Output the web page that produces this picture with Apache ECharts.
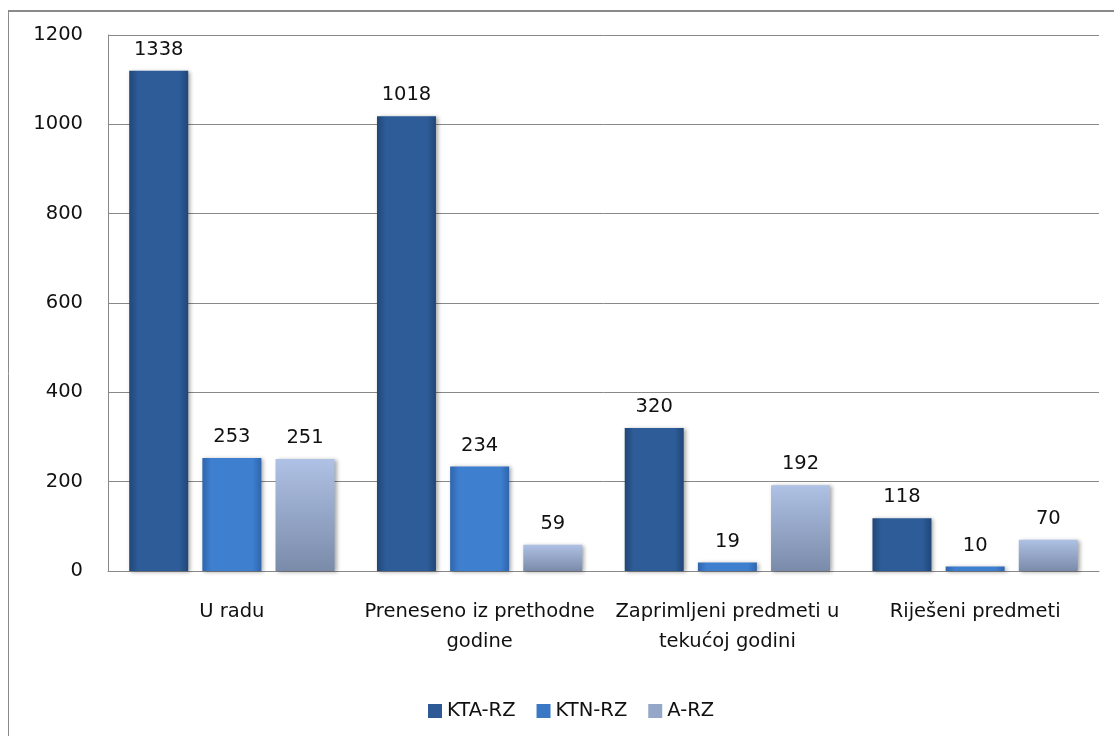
<!DOCTYPE html>
<html>
<head>
<meta charset="utf-8">
<script src="https://cdn.jsdelivr.net/npm/echarts@6/dist/echarts.min.js"></script>
<style>
html,body{margin:0;padding:0;background:#fff;}
#chart{width:1114px;height:736px;}
</style>
</head>
<body>
<div id="chart"></div>
<script>
// Data
var categories = ['U radu', 'Preneseno iz prethodne\ngodine', 'Zaprimljeni predmeti u\ntekućoj godini', 'Riješeni predmeti'];
var seriesNames = ['KTA-RZ', 'KTN-RZ', 'A-RZ'];
// bar heights as drawn in the reference (first KTA-RZ bar is drawn lower than its label)
var ktaBars = [1120, 1018, 320, 118];
var ktaLabels = [1338, 1018, 320, 118];
var ktnBars = [253, 234, 19, 10];
var arzBars = [251, 59, 192, 70];
var yTicks = [0, 200, 400, 600, 800, 1000, 1200];

var FONT = '"DejaVu Sans", sans-serif';
var FS = 19.5;

function hGrad(edge, mid) {
  return new echarts.graphic.LinearGradient(0, 0, 1, 0, [
    {offset: 0, color: edge},
    {offset: 0.15, color: mid},
    {offset: 0.85, color: mid},
    {offset: 1, color: edge}
  ]);
}

var colors = [
  hGrad('#214676', '#2d5c98'),
  hGrad('#2f65ad', '#3f7fcf'),
  new echarts.graphic.LinearGradient(0, 0, 0, 1, [
    {offset: 0, color: '#afc1e4'},
    {offset: 1, color: '#7a8baa'}
  ])
];
var legendColors = ['#2d5a94', '#3a78c6', '#95a7c8'];

function makeSeries(idx, values, labels) {
  return {
    name: seriesNames[idx],
    type: 'bar',
    barWidth: 59,
    barGap: '24%',
    data: values,
    itemStyle: {
      color: colors[idx],
      shadowColor: 'rgba(0,0,0,0.35)',
      shadowBlur: 4,
      shadowOffsetX: 2,
      shadowOffsetY: 1
    },
    label: {
      show: true,
      position: 'top',
      distance: 11,
      color: '#111',
      fontFamily: FONT,
      fontSize: FS,
      formatter: function (p) { return String(labels ? labels[p.dataIndex] : p.value); }
    }
  };
}

var chart = echarts.init(document.getElementById('chart'), null, {renderer: 'canvas'});
chart.setOption({
  animation: false,
  backgroundColor: '#fff',
  color: legendColors,
  graphic: [
    {type: 'line', shape: {x1: 8, y1: 11, x2: 1114, y2: 11}, style: {stroke: '#8a8a8a', lineWidth: 2}},
    {type: 'line', shape: {x1: 8.5, y1: 11, x2: 8.5, y2: 736}, style: {stroke: '#8a8a8a', lineWidth: 1}}
  ],
  grid: {left: 108, top: 35, right: 15, bottom: 165, containLabel: false},
  legend: {
    left: 423,
    top: 696,
    itemWidth: 14,
    itemHeight: 14,
    itemGap: 21,
    icon: 'rect',
    textStyle: {fontFamily: FONT, fontSize: FS, color: '#111'},
    data: seriesNames.map(function (n, i) {
      return {name: n, itemStyle: {color: legendColors[i]}};
    })
  },
  xAxis: {
    type: 'category',
    data: categories,
    axisLine: {lineStyle: {color: '#888', width: 1}},
    axisTick: {show: false},
    axisLabel: {
      interval: 0,
      margin: 26,
      color: '#111',
      fontFamily: FONT,
      fontSize: FS,
      lineHeight: 30
    }
  },
  yAxis: {
    type: 'value',
    min: 0,
    max: 1200,
    interval: 200,
    axisLine: {show: true, lineStyle: {color: '#888', width: 1}},
    axisTick: {show: false},
    splitLine: {lineStyle: {color: '#888', width: 1}},
    axisLabel: {
      margin: 25,
      color: '#111',
      fontFamily: FONT,
      fontSize: FS,
      formatter: function (v) { return yTicks.indexOf(v) >= 0 ? String(v) : ''; }
    }
  },
  series: [
    makeSeries(0, ktaBars, ktaLabels),
    makeSeries(1, ktnBars),
    makeSeries(2, arzBars)
  ]
});
</script>
</body>
</html>
